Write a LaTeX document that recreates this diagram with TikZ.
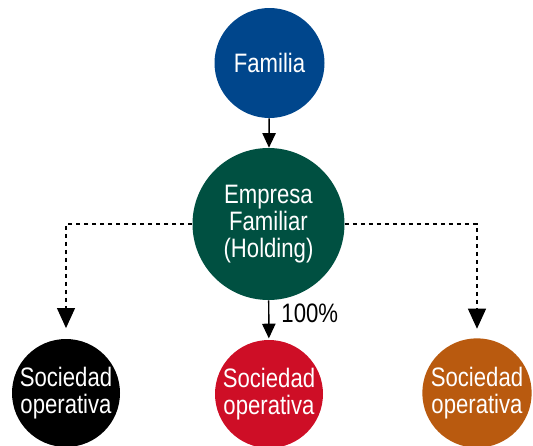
\documentclass[tikz,border=0pt]{standalone}
\usepackage{fontspec}
\setmainfont{Liberation Sans}[FakeStretch=0.83]
\usepackage{xcolor}
\usetikzlibrary{positioning, arrows.meta}

\definecolor{famblue}{RGB}{0,70,140}
\definecolor{holdgreen}{RGB}{0,80,65}
\definecolor{socred}{RGB}{206,14,38}
\definecolor{socorange}{RGB}{185,90,15}

\tikzset{
  circ/.style={circle, inner sep=0pt, text=white, align=center,
    font=\fontsize{20}{20}\selectfont},
  arr/.style={-{Triangle[width=10pt,length=11pt]}, line width=1.1pt},
  darr/.style={-{Triangle[width=13.5pt,length=15pt]}, dashed, line width=0.8pt,
    dash pattern=on 3.5pt off 2.5pt}
}

\begin{document}
\begin{tikzpicture}[x=0.75pt, y=-0.75pt]
  \useasboundingbox (0,0) rectangle (533,446);
  \node[circ, fill=famblue, minimum size=82.5pt] (fam) at (269.5,63) {Familia};
  \node[circ, fill=holdgreen, minimum size=114pt] (hold) at (268.5,224) {Empresa\\Familiar\\(Holding)};
  \node[circ, fill=black, minimum size=81pt] (socA) at (66,393) {Sociedad\\operativa};
  \node[circ, fill=socred, minimum size=81pt] (socB) at (269,394) {Sociedad\\operativa};
  \node[circ, fill=socorange, minimum size=82pt] (socC) at (477,393) {Sociedad\\operativa};
  % conexiones
  \draw[arr] (fam) -- (hold);
  \draw[arr, shorten >=1pt] (hold) -- node[right, pos=0.33, inner sep=9pt, font=\fontsize{20}{20}\selectfont] (pct) {100\%} (socB);
  \draw[darr, shorten >=8pt] (hold.west) -| (socA);
  \draw[darr, shorten >=7pt] (hold.east) -| (socC);
\end{tikzpicture}
\end{document}
